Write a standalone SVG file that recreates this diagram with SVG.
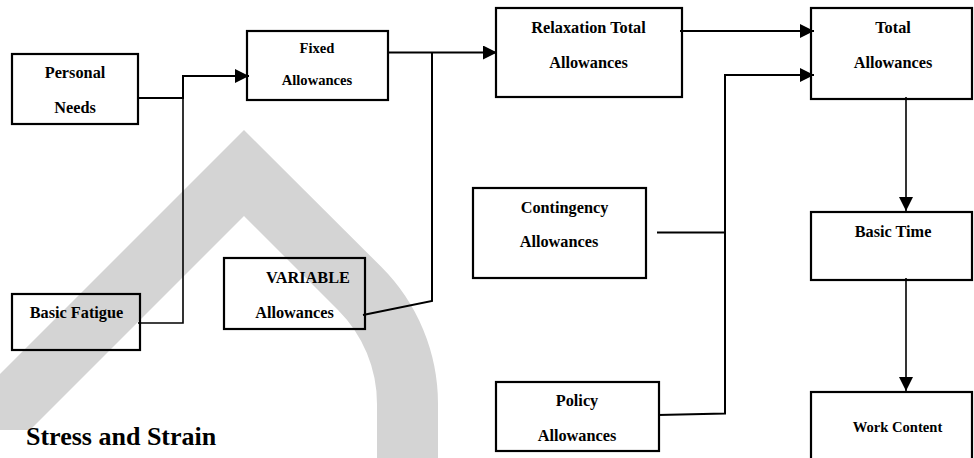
<svg xmlns="http://www.w3.org/2000/svg" width="974" height="458" viewBox="0 0 974 458">
  <defs>
    <marker id="arrow" viewBox="0 0 14 14" markerWidth="14" markerHeight="14" refX="14" refY="7" orient="auto" markerUnits="userSpaceOnUse">
      <path d="M0,0 L14,7 L0,14 Z" fill="#000"/>
    </marker>
    <style>
      .box { fill: none; stroke: #000; stroke-width: 2.2; }
      .lbl { font-family: "Liberation Serif", "Times New Roman", serif; font-weight: bold; font-size: 16.3px; fill: #000; text-anchor: middle; }
      .sm { font-size: 14.6px; }
      .wire { fill: none; stroke: #000; stroke-width: 2; }
      .thin { stroke-width: 1.6; }
      .head { font-family: "Liberation Serif", "Times New Roman", serif; font-weight: bold; font-size: 26px; fill: #000; }
    </style>
  </defs>

  <rect width="974" height="458" fill="#fff"/>

  <!-- light grey background mark -->
  <path d="M0,374 L244,130 L381.2,266.8 A194,194 0 0 1 438,404 L438,458 L377,458 L377,404 A133,133 0 0 0 338,310 L244,216 L30,430 L0,430 Z" fill="#d4d4d4"/>

  <g id="connectors">
    <path class="wire" d="M138,98 H183 V76 H249" marker-end="url(#arrow)"/>
    <path class="wire thin" d="M138,323 H183 V98"/>
    <path class="wire" d="M387,52.5 H497" marker-end="url(#arrow)"/>
    <path class="wire" d="M363,315 L432,301 V52.5"/>
    <path class="wire" d="M680,31 H814" marker-end="url(#arrow)"/>
    <path class="wire" d="M657,232.5 H725"/>
    <path class="wire" d="M658,415 L725,413.5 V75 H814" marker-end="url(#arrow)"/>
    <path class="wire thin" d="M906,97 V211" marker-end="url(#arrow)"/>
    <path class="wire thin" d="M906,278 V391" marker-end="url(#arrow)"/>
  </g>

  <g id="personal-needs">
    <rect class="box" x="12" y="54" width="126" height="70"/>
    <text class="lbl" x="75" y="78">Personal</text>
    <text class="lbl" x="75" y="113">Needs</text>
  </g>

  <g id="fixed-allowances">
    <rect class="box" x="247" y="31" width="141" height="69"/>
    <text class="lbl sm" x="317" y="53">Fixed</text>
    <text class="lbl sm" x="317" y="85">Allowances</text>
  </g>

  <g id="relaxation-total">
    <rect class="box" x="496" y="8" width="186" height="89"/>
    <text class="lbl" x="588.5" y="33">Relaxation Total</text>
    <text class="lbl" x="588.5" y="68">Allowances</text>
  </g>

  <g id="total-allowances">
    <rect class="box" x="811" y="8" width="161" height="91"/>
    <text class="lbl" x="893" y="33">Total</text>
    <text class="lbl" x="893" y="68">Allowances</text>
  </g>

  <g id="contingency">
    <rect class="box" x="473" y="188" width="173" height="90"/>
    <text class="lbl" x="564.5" y="213">Contingency</text>
    <text class="lbl" x="559" y="247">Allowances</text>
  </g>

  <g id="policy">
    <rect class="box" x="496" y="382" width="163" height="69"/>
    <text class="lbl" x="577" y="406">Policy</text>
    <text class="lbl" x="577" y="440.5">Allowances</text>
  </g>

  <g id="basic-time">
    <rect class="box" x="811" y="212" width="161" height="68"/>
    <text class="lbl" x="893" y="236.5">Basic Time</text>
  </g>

  <g id="work-content">
    <rect class="box" x="811" y="392" width="161" height="80"/>
    <text class="lbl sm" x="897.5" y="431.5">Work Content</text>
  </g>

  <g id="basic-fatigue">
    <rect class="box" x="12" y="294" width="128" height="56"/>
    <text class="lbl" x="76.5" y="318">Basic Fatigue</text>
  </g>

  <g id="variable-allowances">
    <rect class="box" x="224" y="258" width="141" height="71"/>
    <text class="lbl" x="308" y="283">VARIABLE</text>
    <text class="lbl" x="294.5" y="318">Allowances</text>
  </g>

  <text class="head" x="26" y="445">Stress and Strain</text>
</svg>
